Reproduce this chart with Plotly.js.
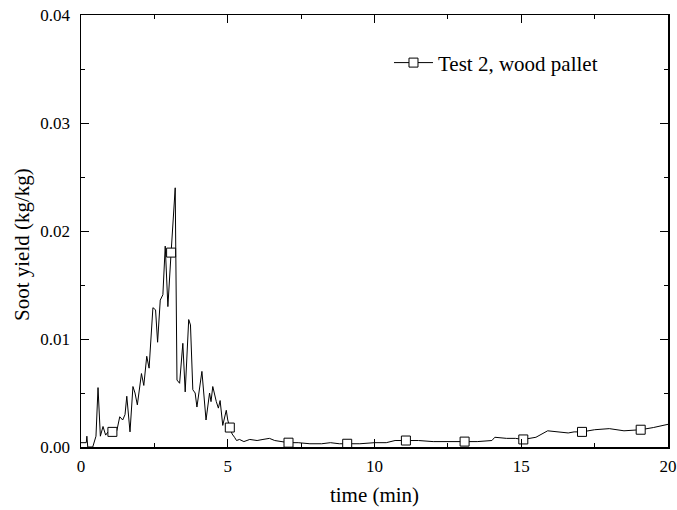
<!DOCTYPE html>
<html>
<head>
<meta charset="utf-8">
<script src="https://cdn.plot.ly/plotly-3.0.1.min.js"></script>
<style>
  body { margin: 0; background: #fff; }
  #chart { width: 677px; height: 510px; }
</style>
</head>
<body>
<div id="chart"></div>
<script>
//data: time (min) and soot yield (kg/kg)
var timeMin = [
  0.00, 0.18, 0.20, 0.23, 0.40, 0.51, 0.58, 0.66, 0.75, 0.84, 0.92, 1.07,
  1.22, 1.32, 1.42, 1.50, 1.56, 1.67, 1.77, 1.84, 1.92, 2.06, 2.14, 2.24,
  2.32, 2.45, 2.54, 2.61, 2.70, 2.79, 2.87, 2.96, 3.07, 3.21, 3.27, 3.36,
  3.47, 3.55, 3.67, 3.73, 3.81, 3.89, 3.95, 4.12, 4.26, 4.38, 4.43, 4.49,
  4.61, 4.68, 4.74, 4.83, 4.95, 5.00, 5.07, 5.15, 5.23, 5.30, 5.40, 5.55,
  5.75, 6.00, 6.20, 6.42, 6.60, 6.80, 7.07, 7.40, 7.80, 8.20, 8.50, 8.80,
  9.07, 9.50, 10.0, 10.4, 10.7, 11.07, 11.5, 12.0, 12.5, 13.07, 13.5, 14.0,
  14.1, 14.5, 14.8, 15.07, 15.5, 15.9, 16.2, 16.6, 16.8, 17.07, 17.5, 18.0,
  18.5, 19.07, 19.5, 20.0
];
var sootYield = [
  0.0004, 0.0004, 0.0010, 0.0000, 0.0000, 0.0010, 0.0055, 0.0010, 0.0019, 0.0011, 0.0014, 0.0014,
  0.0015, 0.0028, 0.0025, 0.0030, 0.0047, 0.0014, 0.0056, 0.0050, 0.0039, 0.0068, 0.0057, 0.0084,
  0.0073, 0.0129, 0.0127, 0.0097, 0.0136, 0.0141, 0.0186, 0.0130, 0.0180, 0.0240, 0.0062, 0.0059,
  0.0096, 0.0051, 0.0118, 0.0113, 0.0053, 0.0050, 0.0037, 0.0070, 0.0025, 0.0050, 0.0042, 0.0056,
  0.0042, 0.0036, 0.0043, 0.0020, 0.0034, 0.0025, 0.0018, 0.0012, 0.0009, 0.0006, 0.0007, 0.0005,
  0.0007, 0.0006, 0.0007, 0.0008, 0.0006, 0.0005, 0.0004, 0.0004, 0.0003, 0.0003, 0.0004, 0.0003,
  0.0003, 0.0003, 0.0004, 0.0004, 0.0006, 0.0006, 0.0006, 0.0005, 0.0005, 0.0005, 0.0005, 0.0006,
  0.0009, 0.0008, 0.0008, 0.0007, 0.0009, 0.0015, 0.0014, 0.0013, 0.0014, 0.0014, 0.0016, 0.0017,
  0.0015, 0.0016, 0.0018, 0.0021
];
//square symbols sit on every second minute
var markerTimes = [1.07, 3.07, 5.07, 7.07, 9.07, 11.07, 13.07, 15.07, 17.07, 19.07];
var seriesName = "Test 2, wood pallet";

var markerY = markerTimes.map(function (t) {
  return sootYield[timeMin.indexOf(t)];
});

var font = "'Liberation Serif', 'DejaVu Serif', serif";

var data = [
  {
    x: timeMin,
    y: sootYield,
    mode: "lines",
    line: { color: "#000", width: 1 },
    showlegend: false,
    hoverinfo: "skip",
  },
  {
    x: markerTimes,
    y: markerY,
    mode: "markers",
    marker: { symbol: "square", size: 9, color: "#fff", line: { color: "#000", width: 1 } },
    showlegend: false,
  },
  //legend entry only
  {
    x: [null],
    y: [null],
    name: seriesName,
    mode: "lines+markers",
    line: { color: "#000", width: 1 },
    marker: { symbol: "square", size: 9, color: "#fff", line: { color: "#000", width: 1 } },
  },
];

var axisCommon = {
  showline: true,
  linecolor: "#000",
  linewidth: 1.5,
  mirror: "ticks",
  ticks: "inside",
  ticklen: 8,
  tickwidth: 1,
  tickcolor: "#000",
  showgrid: false,
  zeroline: false,
  tickfont: { family: font, size: 17, color: "#000" },
};

var layout = {
  width: 677,
  height: 510,
  margin: { l: 81, r: 9, t: 15, b: 63 },
  paper_bgcolor: "#fff",
  plot_bgcolor: "#fff",
  font: { family: font, color: "#000" },
  xaxis: Object.assign({}, axisCommon, {
    range: [0, 20],
    dtick: 5,
    tick0: 0,
    ticklabelstandoff: 3,
    minor: { ticks: "inside", ticklen: 4, dtick: 2.5, tickcolor: "#000" },
    title: { text: "time (min)", font: { family: font, size: 21 }, standoff: 12 },
  }),
  yaxis: Object.assign({}, axisCommon, {
    range: [0, 0.04],
    dtick: 0.01,
    tick0: 0,
    tickformat: ".2f",
    ticklabelstandoff: 6,
    minor: { ticks: "inside", ticklen: 4, dtick: 0.005, tickcolor: "#000" },
  }),
  legend: {
    x: 0.5247,
    y: 0.889,
    xanchor: "left",
    yanchor: "middle",
    itemwidth: 39,
    bgcolor: "rgba(0,0,0,0)",
    borderwidth: 0,
    font: { family: font, size: 21, color: "#000" },
  },
  annotations: [
    {
      text: "Soot yield (kg/kg)",
      xref: "paper",
      yref: "paper",
      x: 0,
      y: 0.4676,
      xshift: -59,
      xanchor: "center",
      yanchor: "middle",
      textangle: -90,
      showarrow: false,
      font: { family: font, size: 21, color: "#000" },
    },
  ],
};

Plotly.newPlot("chart", data, layout, { displayModeBar: false, staticPlot: true });
</script>
</body>
</html>
